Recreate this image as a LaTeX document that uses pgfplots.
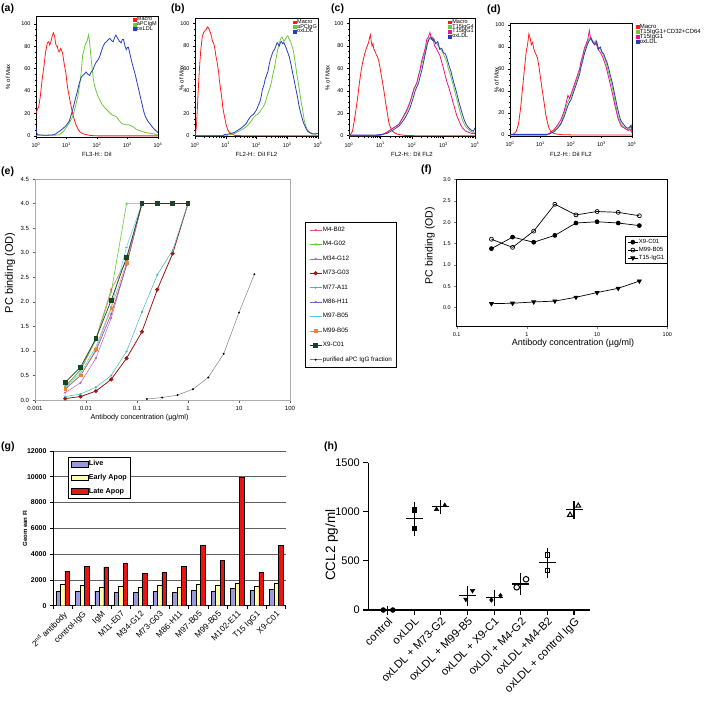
\documentclass[border=0pt]{standalone}
\usepackage{fontspec}
\setmainfont{Liberation Sans}
\usepackage{pgfplots}
\pgfplotsset{compat=1.18}
\newcommand{\fs}[1]{\fontsize{#1}{#1}\selectfont}
\definecolor{fred}{RGB}{255,25,25}
\definecolor{fgreen}{RGB}{110,200,60}
\definecolor{fblue}{RGB}{40,60,190}
\definecolor{fmag}{RGB}{235,20,140}
\definecolor{cA}{RGB}{232,90,90}
\definecolor{cB}{RGB}{100,200,60}
\definecolor{cC}{RGB}{190,90,200}
\definecolor{cD}{RGB}{160,20,20}
\definecolor{cE}{RGB}{70,180,180}
\definecolor{cF}{RGB}{110,100,200}
\definecolor{cG}{RGB}{90,200,235}
\definecolor{cH}{RGB}{245,130,50}
\definecolor{cI}{RGB}{20,70,40}
\definecolor{live}{RGB}{153,153,221}
\definecolor{early}{RGB}{255,255,170}
\definecolor{late}{RGB}{235,20,20}
\pgfplotsset{
  /pgf/number format/assume math mode=true,
  /pgf/number format/1000 sep={},
  flow/.style={
    scale only axis, xmin=0, xmax=4,
    xtick={0,1,2,3,4},
    xticklabels={10\textsuperscript{0},10\textsuperscript{1},10\textsuperscript{2},10\textsuperscript{3},10\textsuperscript{4}},
    minor xtick={0.301,0.477,0.602,0.699,0.778,0.845,0.903,0.954,1.301,1.477,1.602,1.699,1.778,1.845,1.903,1.954,2.301,2.477,2.602,2.699,2.778,2.845,2.903,2.954,3.301,3.477,3.602,3.699,3.778,3.845,3.903,3.954},
    ytick={0,20,40,60,80,100},
    minor y tick num=3,
    tick align=outside, tick pos=left,
    major tick length=2pt, minor tick length=1.2pt,
    axis line style={line width=0.8pt},
    every tick/.style={black, line width=0.4pt},
    tick label style={font=\fs{5.5}},
    label style={font=\fs{6}},
    ylabel={\% of Max},
    legend cell align=left,
    legend image code/.code={\fill[##1] (0pt,-1.4pt) rectangle (2.8pt,1.4pt);},
    legend style={draw=none, fill=none, font=\fs{5.5}, at={(1,1)}, anchor=north east, inner sep=0.5pt, row sep=-1.6pt, nodes={inner sep=0.5pt}},
  },
}
\begin{document}
\begin{tikzpicture}
\useasboundingbox (0,0) rectangle (709pt,-701pt);
\tikzset{plab/.style={anchor=north west, font=\fs{10.5}\bfseries, inner sep=0pt}}
\node[plab] at (1pt,-4pt) {(a)};
\node[plab] at (171pt,-4pt) {(b)};
\node[plab] at (331pt,-4pt) {(c)};
\node[plab] at (487pt,-5pt) {(d)};
\node[plab] at (1pt,-167pt) {(e)};
\node[plab] at (421pt,-165pt) {(f)};
\node[plab] at (1pt,-442pt) {(g)};
\node[plab] at (324pt,-442pt) {(h)};

% ---------------- (a)
\begin{axis}[flow, at={(36pt,-16pt)}, anchor=north west, width=122pt, height=121pt, ymin=-1, ymax=107,
  xlabel={FL3-H:: DiI},
  ylabel style={at={(axis description cs:-0.23,0.5)}, anchor=center},
  xlabel style={at={(axis description cs:0.5,-0.14)}, anchor=center}]
\addplot[fred, line width=0.8pt] coordinates {(0,20) (0.01,21) (0.05,24) (0.09,26) (0.14,35) (0.2,50) (0.26,62) (0.31,74) (0.37,83) (0.42,84) (0.45,81) (0.48,83) (0.53,89) (0.57,92) (0.61,89) (0.64,83) (0.67,80) (0.7,80) (0.73,76) (0.76,75) (0.81,78) (0.87,74) (0.92,65) (0.98,56) (1.03,44) (1.07,38) (1.11,32) (1.2,20) (1.25,15) (1.31,10) (1.36,7) (1.42,4) (1.5,2.5) (1.59,1.5) (1.7,0.8) (1.81,0.3) (2.03,0) (4,0)};
\addplot[fgreen, line width=0.8pt] coordinates {(0,0.5) (0.6,0.5) (0.76,1) (0.9,4) (1.03,9) (1.1,12) (1.2,17) (1.28,25) (1.37,35) (1.43,45) (1.48,56) (1.53,72) (1.56,75) (1.6,80) (1.64,83) (1.68,85) (1.72,90) (1.75,85) (1.79,74) (1.83,63) (1.87,53) (1.91,46) (1.96,41) (2.02,36) (2.09,32) (2.17,28) (2.26,25) (2.37,22) (2.48,19) (2.56,18) (2.64,17) (2.72,14) (2.81,11) (2.92,10) (3.03,10) (3.12,9) (3.2,8) (3.28,6) (3.37,5) (3.48,4) (3.59,3) (3.7,2.5) (3.81,2) (3.9,1.5) (4,1)};
\addplot[fblue, line width=0.8pt] coordinates {(0,7) (0.02,3) (0.05,1) (0.3,0.5) (0.6,1) (0.81,5) (0.9,7) (0.98,9) (1.09,13) (1.2,23) (1.31,35) (1.36,40) (1.42,47) (1.48,52) (1.53,54) (1.58,55) (1.64,57) (1.7,55) (1.76,54) (1.81,57) (1.87,59) (1.92,63) (1.98,66) (2.04,68) (2.09,71) (2.15,76) (2.2,80) (2.26,83) (2.31,84) (2.37,86) (2.42,87) (2.48,85) (2.53,84) (2.58,88) (2.62,90) (2.66,88) (2.7,86) (2.75,84) (2.79,83) (2.83,86) (2.87,86) (2.92,80) (2.96,77) (3.0,79) (3.03,79) (3.09,72) (3.14,66) (3.2,60) (3.26,54) (3.31,48) (3.37,41) (3.42,35) (3.48,28) (3.53,22) (3.59,17) (3.67,13) (3.76,10) (3.84,7) (3.92,5) (4,3)};
\legend{Macro,aPCIgM,oxLDL}
\end{axis}

% ---------------- (b)
\begin{axis}[flow, at={(195pt,-18.5pt)}, anchor=north west, width=123pt, height=118.3pt, ymin=-1, ymax=104.5,
  xlabel={FL2-H:: DiI FL2},
  ylabel style={at={(axis description cs:-0.11,0.5)}, anchor=center},
  xlabel style={at={(axis description cs:0.5,-0.145)}, anchor=center}]
\addplot[fred, line width=0.8pt] coordinates {(0,0.5) (0.02,2) (0.05,10) (0.08,26) (0.1,38) (0.13,53) (0.16,66) (0.19,77) (0.22,84) (0.24,89) (0.27,91) (0.3,93) (0.34,94) (0.37,95) (0.4,97) (0.44,96) (0.47,94) (0.5,92) (0.54,88) (0.57,84) (0.6,83) (0.63,80) (0.66,75) (0.68,71) (0.71,67) (0.74,62) (0.77,56) (0.79,50) (0.82,44) (0.85,38) (0.88,32) (0.9,26) (0.93,21) (0.96,17) (1.01,10) (1.07,5) (1.12,3) (1.18,1.5) (1.29,0.3) (1.5,0) (4,0)};
\addplot[fgreen, line width=0.8pt] coordinates {(0,0) (1.0,0) (1.29,2) (1.5,5) (1.67,8) (1.8,12) (1.9,16) (1.97,18) (2.04,19) (2.1,21) (2.17,24) (2.23,26) (2.29,30) (2.34,35) (2.4,40) (2.45,44) (2.49,48) (2.52,53) (2.57,59) (2.61,65) (2.65,71) (2.69,77) (2.74,82) (2.78,86) (2.82,88) (2.85,87) (2.89,84) (2.94,86) (2.98,88) (3.02,89) (3.06,86) (3.11,84) (3.15,80) (3.19,77) (3.23,70) (3.27,63) (3.31,55) (3.36,47) (3.4,40) (3.44,32) (3.5,23) (3.55,14) (3.6,9) (3.66,5) (3.74,3) (3.82,2) (3.9,1.5) (4,2)};
\addplot[fblue, line width=0.8pt] coordinates {(0,0) (0.9,0) (0.96,1) (1.1,1.5) (1.29,3) (1.4,5) (1.51,7) (1.6,9) (1.67,11) (1.73,14) (1.78,16) (1.84,18) (1.9,19) (1.95,21) (2.0,23) (2.06,27) (2.12,31) (2.16,36) (2.19,41) (2.24,45) (2.28,50) (2.33,54) (2.37,57) (2.41,63) (2.45,68) (2.49,71) (2.52,74) (2.56,76) (2.59,77) (2.63,80) (2.67,83) (2.7,82) (2.74,80) (2.78,83) (2.81,84) (2.85,82) (2.89,83) (2.92,81) (2.94,80) (2.98,77) (3.02,74) (3.07,70) (3.11,65) (3.16,58) (3.22,50) (3.27,43) (3.33,35) (3.38,27) (3.44,20) (3.5,14) (3.55,10) (3.6,7) (3.66,4) (3.74,2.5) (3.82,1.5) (3.9,1.5) (4,2)};
\legend{Macro,aPCIgG,oxLDL}
\end{axis}

% ---------------- (c)
\begin{axis}[flow, at={(349pt,-18.5pt)}, anchor=north west, width=126pt, height=118.3pt, ymin=-1, ymax=104.5,
  xlabel={FL2-H:: DiI FL2},
  ylabel style={at={(axis description cs:-0.17,0.5)}, anchor=center},
  xlabel style={at={(axis description cs:0.5,-0.145)}, anchor=center}]
\addplot[fred, line width=0.8pt] coordinates {(0,0.5) (0.05,1) (0.11,4) (0.16,12) (0.22,23) (0.28,35) (0.33,47) (0.38,57) (0.43,65) (0.49,72) (0.54,77) (0.58,80) (0.62,83) (0.65,87) (0.68,90) (0.7,85) (0.73,80) (0.76,82) (0.79,77) (0.83,75) (0.87,72) (0.91,70) (0.95,66) (0.99,60) (1.03,53) (1.08,45) (1.12,38) (1.16,30) (1.2,23) (1.24,16) (1.27,11) (1.32,7) (1.38,4) (1.45,2.5) (1.52,1.5) (1.63,0.8) (1.74,0.3) (2.1,0) (4,0)};
\addplot[fgreen, line width=0.8pt] coordinates {(0,0) (0.8,0) (1.0,0.5) (1.14,2) (1.36,6) (1.58,10) (1.74,17) (1.84,22) (1.9,26) (2.0,35) (2.07,42) (2.12,45) (2.17,48) (2.22,55) (2.28,60) (2.33,66) (2.39,72) (2.45,80) (2.5,85) (2.55,87) (2.61,86) (2.66,88) (2.72,84) (2.78,83) (2.83,80) (2.88,78) (2.93,76) (2.98,74) (3.04,70) (3.1,66) (3.15,60) (3.21,55) (3.26,50) (3.32,44) (3.37,38) (3.43,32) (3.48,26) (3.54,20) (3.59,15) (3.65,11) (3.7,8) (3.78,6) (3.86,4) (3.93,3) (4,3)};
\addplot[fmag, line width=0.8pt] coordinates {(0,0) (0.8,0) (1.0,0.5) (1.14,2) (1.36,6) (1.58,10) (1.7,16) (1.8,21) (1.88,26) (1.97,33) (2.05,41) (2.1,44) (2.15,47) (2.2,53) (2.25,58) (2.3,66) (2.36,72) (2.42,78) (2.47,86) (2.52,88) (2.57,92) (2.62,86) (2.66,87) (2.72,80) (2.77,78) (2.82,75) (2.88,72) (2.94,66) (3.0,60) (3.06,53) (3.12,47) (3.18,42) (3.24,36) (3.3,30) (3.36,24) (3.42,18) (3.48,14) (3.54,10) (3.6,7) (3.7,4) (3.8,3) (3.9,2) (4,2)};
\addplot[fblue, line width=0.8pt] coordinates {(0,0.5) (0.8,0.5) (1.0,1) (1.2,2) (1.4,5) (1.6,9) (1.76,15) (1.86,20) (1.94,25) (2.03,33) (2.1,40) (2.16,44) (2.21,47) (2.26,53) (2.31,58) (2.37,66) (2.43,74) (2.49,82) (2.54,86) (2.6,88) (2.65,85) (2.7,86) (2.75,82) (2.82,84) (2.88,77) (2.94,78) (3.0,74) (3.06,73) (3.12,68) (3.18,62) (3.24,57) (3.3,50) (3.36,44) (3.42,38) (3.48,31) (3.54,25) (3.6,19) (3.66,14) (3.72,10) (3.8,7) (3.88,5) (3.95,4) (4,7)};
\legend{Macro,T15IgG4,T15IgG1,oxLDL}
\end{axis}

% ---------------- (d)
\begin{axis}[flow, at={(510pt,-23pt)}, anchor=north west, width=122pt, height=113pt, ymin=-1, ymax=101.8,
  xlabel={FL2-H:: DiI FL2},
  ylabel style={at={(axis description cs:-0.11,0.5)}, anchor=center},
  xlabel style={at={(axis description cs:0.5,-0.16)}, anchor=center},
  legend style={at={(1,1)}, anchor=north west, xshift=3pt, font=\fs{6}}]
\addplot[fred, line width=0.8pt] coordinates {(0,0) (0.1,0.5) (0.2,3) (0.28,10) (0.35,25) (0.42,45) (0.48,62) (0.53,75) (0.58,83) (0.62,92) (0.66,88) (0.7,82) (0.74,84) (0.79,77) (0.84,74) (0.9,70) (0.95,62) (1.01,50) (1.06,40) (1.12,29) (1.17,19) (1.23,11) (1.28,6) (1.34,3) (1.42,1.5) (1.51,0.8) (1.7,0.2) (2,0) (4,0)};
\addplot[fgreen, line width=0.8pt] coordinates {(0,0) (1.2,0) (1.3,1) (1.45,4) (1.56,7) (1.67,11) (1.78,20) (1.89,30) (1.95,33) (2.0,35) (2.05,39) (2.11,44) (2.16,48) (2.22,53) (2.28,58) (2.33,65) (2.39,71) (2.44,77) (2.5,81) (2.55,85) (2.6,88) (2.64,89) (2.7,86) (2.77,84) (2.82,86) (2.88,80) (2.94,79) (3.0,76) (3.05,73) (3.1,70) (3.16,65) (3.21,59) (3.27,53) (3.32,47) (3.38,40) (3.43,32) (3.49,24) (3.54,17) (3.6,13) (3.65,10) (3.7,8) (3.76,7) (3.82,5) (3.87,5) (3.92,6) (3.96,8) (4,2)};
\addplot[fmag, line width=0.8pt] coordinates {(0,0) (1.2,0) (1.3,1.5) (1.45,5) (1.56,9) (1.67,14) (1.78,22) (1.85,30) (1.9,36) (1.95,33) (2.0,37) (2.05,41) (2.11,46) (2.16,50) (2.22,55) (2.28,60) (2.33,67) (2.39,73) (2.44,79) (2.5,83) (2.55,87) (2.6,95) (2.64,88) (2.7,85) (2.77,82) (2.82,84) (2.88,78) (2.94,76) (3.0,73) (3.05,70) (3.1,66) (3.16,61) (3.21,55) (3.27,48) (3.32,42) (3.38,35) (3.43,28) (3.49,21) (3.54,15) (3.6,11) (3.65,8) (3.7,7) (3.76,6) (3.82,5) (3.88,4) (3.94,5) (4,2)};
\addplot[fblue, line width=0.8pt] coordinates {(0,0.5) (1.2,0.5) (1.3,1) (1.45,3) (1.56,6) (1.67,10) (1.78,17) (1.89,26) (1.95,30) (2.0,32) (2.05,36) (2.11,41) (2.16,45) (2.22,50) (2.28,55) (2.33,62) (2.39,68) (2.44,74) (2.5,79) (2.55,83) (2.6,86) (2.66,88) (2.72,84) (2.78,82) (2.84,85) (2.9,78) (2.96,80) (3.02,75) (3.07,74) (3.12,70) (3.18,66) (3.24,60) (3.29,54) (3.35,48) (3.4,41) (3.46,33) (3.51,26) (3.57,19) (3.62,14) (3.68,11) (3.74,9) (3.8,7) (3.86,6) (3.92,7) (3.97,9) (4,4)};
\legend{Macro,T15IgG1+CD32+CD64,T15IgG1,oxLDL}
\end{axis}

% ---------------- (e)
\begin{axis}[scale only axis, at={(35pt,-179pt)}, anchor=north west, width=255pt, height=221pt,
  xmode=log, xmin=0.001, xmax=100, ymin=0, ymax=4.5,
  xtick={0.001,0.01,0.1,1,10,100}, xticklabels={0.001,0.01,0.1,1,10,100}, xminorticks=false,
  ytick={0,0.5,1,1.5,2,2.5,3,3.5,4,4.5},
  yticklabel={\pgfmathprintnumber[fixed,fixed zerofill,precision=1]{\tick}},
  tick align=outside, tick pos=left, major tick length=2.5pt,
  axis line style={gray!65, line width=0.7pt},
  every tick/.style={gray!70!black, line width=0.5pt},
  tick label style={font=\fs{6}},
  xlabel={Antibody concentration (µg/ml)}, ylabel={PC binding (OD)},
  xlabel style={font=\fs{7.2}, at={(axis description cs:0.41,-0.081)}, anchor=center},
  ylabel style={font=\fs{11}, at={(axis description cs:-0.098,0.575)}, anchor=center},
  legend cell align=left,
  legend image code/.code={\draw[mark repeat=2,mark phase=2,#1] plot coordinates {(0pt,0pt) (6pt,0pt) (12pt,0pt)};},
  legend style={at={(1.059,0.805)}, anchor=north west, draw=black, font=\fs{6.3}, row sep=6.9pt, inner sep=4pt, nodes={inner sep=0.8pt}}]
\addplot[cA, line width=0.5pt, mark=*, mark size=0.8pt] coordinates {(0.00390625,0.28) (0.0078125,0.62) (0.015625,1.25) (0.03125,2.25) (0.0625,2.85) (0.125,4.0)};
\addplot[cB, line width=0.6pt, mark=x, mark size=1.3pt] coordinates {(0.00390625,0.27) (0.0078125,0.6) (0.015625,1.22) (0.03125,2.2) (0.0625,4.0) (0.125,4.0)};
\addplot[cC, line width=0.5pt, mark=*, mark size=0.8pt] coordinates {(0.00390625,0.15) (0.0078125,0.35) (0.015625,0.85) (0.03125,1.67) (0.0625,2.75) (0.125,4.0)};
\addplot[cD, line width=0.8pt, mark=*, mark size=1.6pt] coordinates {(0.00390625,0.03) (0.0078125,0.07) (0.015625,0.18) (0.03125,0.42) (0.0625,0.85) (0.125,1.39) (0.25,2.25) (0.5,2.98) (1,4.0)};
\addplot[cE, line width=0.5pt, mark=*, mark size=0.8pt] coordinates {(0.00390625,0.07) (0.0078125,0.12) (0.015625,0.26) (0.03125,0.5) (0.0625,0.99) (0.125,1.79) (0.25,2.55) (0.5,3.05) (1,4.0)};
\addplot[cF, line width=0.7pt, mark=*, mark size=0.6pt] coordinates {(0.00390625,0.22) (0.0078125,0.5) (0.015625,1.0) (0.03125,1.75) (0.0625,2.75) (0.125,4.0)};
\addplot[cG, line width=0.5pt, mark=-, mark size=1.2pt] coordinates {(0.00390625,0.25) (0.0078125,0.55) (0.015625,1.08) (0.03125,1.9) (0.0625,3.12) (0.125,4.0)};
\addplot[cH, line width=0.5pt, mark=square*, mark size=1.3pt] coordinates {(0.00390625,0.23) (0.0078125,0.5) (0.015625,1.03) (0.03125,1.87) (0.0625,2.8) (0.125,4.0)};
\addplot[cI, line width=0.7pt, mark=square*, mark size=1.8pt] coordinates {(0.00390625,0.36) (0.0078125,0.67) (0.015625,1.25) (0.03125,2.03) (0.0625,2.9) (0.125,4.0) (0.25,4.0) (0.5,4.0) (1,4.0)};
\addplot[gray, line width=0.5pt, mark=*, mark size=0.7pt, mark options={black}] coordinates {(0.15625,0.02) (0.3125,0.05) (0.625,0.1) (1.25,0.22) (2.5,0.46) (5,0.94) (10,1.78) (20,2.56)};
\legend{M4-B02,M4-G02,M34-G12,M73-G03,M77-A11,M86-H11,M97-B05,M99-B05,X9-C01,purified aPC IgG fraction}
\end{axis}

% ---------------- (f)
\begin{axis}[scale only axis, at={(456.7pt,-179.5pt)}, anchor=north west, width=210.6pt, height=147.2pt,
  xmode=log, xmin=0.1, xmax=100, ymin=-0.45, ymax=3.0,
  xtick={0.1,1,10,100}, xticklabels={0.1,1,10,100}, xminorticks=false,
  ytick={0,0.5,1,1.5,2,2.5,3},
  yticklabel={\pgfmathprintnumber[fixed,fixed zerofill,precision=1]{\tick}},
  tick align=outside, tick pos=left, major tick length=2.5pt,
  axis line style={line width=0.6pt},
  tick label style={font=\fs{5.5}},
  xlabel={Antibody concentration (µg/ml)}, ylabel={PC binding (OD)},
  xlabel style={font=\fs{9}, at={(axis description cs:0.552,-0.109)}, anchor=center},
  ylabel style={font=\fs{10.5}, at={(axis description cs:-0.127,0.55)}, anchor=center},
  legend cell align=left,
  legend image code/.code={\draw[mark repeat=2,mark phase=2,#1] plot coordinates {(0pt,0pt) (5pt,0pt) (10pt,0pt)};},
  legend style={at={(1,0.614)}, anchor=north east, draw=black, font=\fs{6}, row sep=0.6pt, inner sep=2pt, nodes={inner sep=0.8pt}}]
\addplot[black, line width=0.7pt, mark=*, mark size=2pt] coordinates {(0.3125,1.38) (0.625,1.65) (1.25,1.53) (2.5,1.69) (5,1.98) (10,2.01) (20,1.98) (40,1.92)};
\addplot[black, line width=0.7pt, mark=o, mark size=2pt, mark options={fill=white}] coordinates {(0.3125,1.6) (0.625,1.41) (1.25,1.79) (2.5,2.42) (5,2.17) (10,2.25) (20,2.23) (40,2.15)};
\addplot[black, line width=0.7pt, mark=triangle*, mark size=2.3pt, mark options={rotate=180}] coordinates {(0.3125,0.09) (0.625,0.1) (1.25,0.13) (2.5,0.15) (5,0.24) (10,0.35) (20,0.45) (40,0.62)};
\legend{X9-C01,M99-B05,T15-IgG1}
\end{axis}

% ---------------- (g)
\begin{axis}[scale only axis, at={(53pt,-451pt)}, anchor=north west, width=232.7pt, height=154.7pt,
  ybar=0pt, bar width=4.5pt,
  xmin=-0.5, xmax=11.5, ymin=0, ymax=12000,
  ytick={0,2000,4000,6000,8000,10000,12000}, scaled y ticks=false,
  xtick={0,1,2,3,4,5,6,7,8,9,10,11},
  xticklabels={2\textsuperscript{nd} antibody,control-IgG,IgM,M11-E07,M34-G12,M73-G03,M86-H11,M97-B05,M99-B05,M102-E11,T15 IgG1,X9-C01},
  minor xtick={-0.5,0.5,1.5,2.5,3.5,4.5,5.5,6.5,7.5,8.5,9.5,10.5,11.5},
  major x tick style={draw=none},
  axis lines*=left, axis line style={-, line width=0.7pt},
  ymajorgrids, grid style={gray!75!black, line width=0.7pt},
  tick align=outside, major tick length=3pt, minor tick length=3pt,
  every tick/.style={black, line width=0.6pt},
  yticklabel style={font=\fs{7}\bfseries},
  xticklabel style={font=\fs{8.3}, rotate=45, anchor=north east, inner sep=1pt},
  ylabel={Geom ean FI},
  ylabel style={font=\fs{6}\bfseries, at={(axis description cs:-0.12,0.5)}, anchor=center},
  legend cell align=left,
  legend style={at={(0.064,0.961)}, anchor=north west, draw=black, fill=white, font=\fs{7.2}\bfseries, row sep=5.5pt, inner sep=2.5pt, nodes={inner sep=0.8pt}}]
\addplot[fill=live, draw=black, line width=0.4pt, area legend] coordinates {(0,1140) (1,1140) (2,1140) (3,1060) (4,1060) (5,1140) (6,1060) (7,1215) (8,1140) (9,1320) (10,1190) (11,1270)};
\addplot[fill=early, draw=black, line width=0.4pt, area legend] coordinates {(0,1630) (1,1600) (2,1450) (3,1550) (4,1470) (5,1600) (6,1450) (7,1630) (8,1580) (9,1760) (10,1550) (11,1760)};
\addplot[fill=late, draw=black, line width=0.4pt, area legend] coordinates {(0,2690) (1,3070) (2,3020) (3,3280) (4,2510) (5,2610) (6,3070) (7,4700) (8,3510) (9,10000) (10,2610) (11,4680)};
\legend{Live,Early Apop,Late Apop}
\end{axis}

% ---------------- (h)
\begin{axis}[scale only axis, at={(368.3pt,-462.7pt)}, anchor=north west, width=221.7pt, height=147.3pt,
  xmin=-0.72, xmax=7.6, ymin=0, ymax=1500, clip=false,
  axis lines*=left, axis line style={-, line width=1.2pt},
  xtick={0,1,2,3,4,5,6,7},
  xticklabels={control,oxLDL,oxLDL + M73-G2,oxLDL + M99-B5,oxLDL + X9-C1,oxLDl + M4-G2,oxLDL +M4-B2,oxLDL + control IgG},
  ytick={0,500,1000,1500},
  tick align=outside, major tick length=5pt,
  every tick/.style={black, line width=1.1pt},
  tick label style={font=\fs{11}},
  xticklabel style={font=\fs{11.2}, rotate=45, anchor=north east, inner sep=1pt},
  ylabel={CCL2 pg/ml},
  ylabel style={font=\fs{13.5}, at={(axis description cs:-0.165,0.44)}, anchor=center}]
\addplot[black, only marks, mark=-, mark size=8.5pt, mark options={line width=1.2pt},
  error bars/.cd, y dir=both, y explicit, error bar style={line width=1.1pt},
  error mark options={mark size=4pt, line width=1.1pt}]
  coordinates {(0,0) +- (0,0) (1,930) +- (0,131) (2,1050) +- (0,31) (3,145) +- (0,60) (4,124) +- (0,40) (5,265) +- (0,68) (6,481) +- (0,114) (7,1020) +- (0,51)};
\addplot[black, only marks, mark=*, mark size=2.5pt] coordinates {(-0.16,0) (0.2,0)};
\addplot[black, only marks, mark=square*, mark size=2.3pt] coordinates {(1,1020) (1,833)};
\addplot[black, only marks, mark=triangle*, mark size=2.6pt] coordinates {(1.84,1025) (2.15,1065)};
\addplot[black, only marks, mark=triangle*, mark size=2.6pt, mark options={rotate=180}] coordinates {(2.94,109) (3.19,197)};
\addplot[black, only marks, mark=diamond*, mark size=2.4pt] coordinates {(3.9,102) (4.24,146)};
\addplot[black, only marks, mark=o, mark size=2.8pt, mark options={line width=1pt, fill=white}] coordinates {(4.85,231) (5.2,313)};
\addplot[black, only marks, mark=square, mark size=2.3pt, mark options={line width=1pt}] coordinates {(6,561) (6,401)};
\addplot[black, only marks, mark=triangle, mark size=2.8pt, mark options={line width=1pt}] coordinates {(6.85,969) (7.16,1061)};
\end{axis}
\end{tikzpicture}
\end{document}
